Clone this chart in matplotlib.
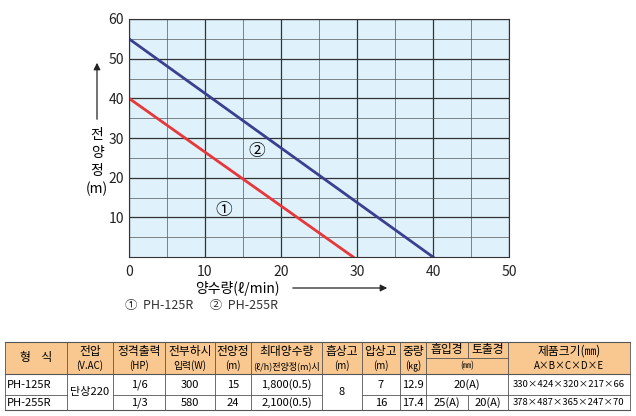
import matplotlib.pyplot as plt
from matplotlib.patches import Rectangle, FancyArrowPatch

plt.rcParams['font.family'] = ['Noto Sans CJK KR', 'DejaVu Sans']

# chart data
flow_125 = [0, 29.5]
head_125 = [40, 0]
flow_255 = [0, 40]
head_255 = [55, 0]

# table data
col_edges = [5, 67, 113, 165, 215, 251, 322, 362, 400, 426, 468, 508, 630]
headers = ['형    식', '전압', '정격출력', '전부하시', '전양정', '최대양수량', '흡상고', '압상고', '중량']
subheaders = ['', '(V.AC)', '(HP)', '입력(W)', '(m)', '(ℓ/h)전양정(m)시', '(m)', '(m)', '(㎏)']
row1 = ['PH-125R', '1/6', '300', '15', '1,800(0.5)', '7', '12.9', '20(A)', '330×424×320×217×66']
row2 = ['PH-255R', '1/3', '580', '24', '2,100(0.5)', '16', '17.4', '25(A)', '20(A)', '378×487×365×247×70']

fig = plt.figure(figsize=(6.36, 4.16), dpi=100)
ax = fig.add_axes([129 / 636, 1 - 257 / 416, 380 / 636, 238 / 416])
ax.set_facecolor('#dff1fb')
ax.set_xlim(0, 50)
ax.set_ylim(0, 60)
ax.set_xticks(range(0, 51, 5), minor=True)
ax.set_yticks(range(0, 61, 5), minor=True)
ax.set_xticks(range(0, 51, 10))
ax.set_yticks(range(10, 61, 10))
ax.grid(which='major', color='#333333', lw=0.9)
ax.grid(which='minor', color='#555555', lw=0.5)
ax.tick_params(which='both', length=0, labelsize=10, colors='#222222')
ax.tick_params(axis='x', pad=6)
for s in ax.spines.values():
    s.set_color('#333333')
ax.plot(flow_125, head_125, color='#e8373a', lw=2)
ax.plot(flow_255, head_255, color='#3a3f8f', lw=2)
ax.text(12.4, 11.8, '①', fontsize=12, ha='center', va='center')
ax.text(16.8, 26.5, '②', fontsize=12, ha='center', va='center')

o = fig.add_axes([0, 0, 1, 1])
o.set_xlim(0, 636)
o.set_ylim(416, 0)
o.axis('off')
o.patch.set_alpha(0)

o.text(97, 162, '전\n양\n정\n(m)', fontsize=10, ha='center', va='center', linespacing=1.35)
o.add_patch(FancyArrowPatch((97, 122), (97, 60), arrowstyle='-|>', mutation_scale=10, color='#222', lw=0.9))
o.text(237, 288, '양수량(ℓ/min)', fontsize=10, ha='center', va='center')
o.add_patch(FancyArrowPatch((290, 288), (390, 288), arrowstyle='-|>', mutation_scale=10, color='#222', lw=0.9))
o.text(125, 306, '①  PH-125R      ②  PH-255R', fontsize=9, ha='left', va='center', color='#333')

# table
top, hb, mid, bot = 342, 374, 395, 410
lc = '#555555'
o.add_patch(Rectangle((col_edges[0], top), col_edges[-1] - col_edges[0], hb - top, fc='#f8c890', ec='none'))
fs = 8
hs = 8.5
for i, h in enumerate(headers):
    xc = (col_edges[i] + col_edges[i + 1]) / 2
    if subheaders[i]:
        o.text(xc, 351, h, fontsize=hs, ha='center', va='center')
        o.text(xc, 366, subheaders[i], fontsize=6.5 if i == 5 else 7, ha='center', va='center')
    else:
        o.text(xc, (top + hb) / 2, h, fontsize=hs, ha='center', va='center')
o.text((col_edges[9] + col_edges[10]) / 2, 350, '흡입경', fontsize=hs, ha='center', va='center')
o.text((col_edges[10] + col_edges[11]) / 2, 350, '토출경', fontsize=hs, ha='center', va='center')
o.text((col_edges[9] + col_edges[11]) / 2, 366, '(㎜)', fontsize=6, ha='center', va='center')
o.text((col_edges[11] + col_edges[12]) / 2, 351, '제품크기(㎜)', fontsize=hs, ha='center', va='center')
o.text((col_edges[11] + col_edges[12]) / 2, 366, 'A×B×C×D×E', fontsize=7, ha='center', va='center')

# lines
o.plot([col_edges[0], col_edges[-1]], [top, top], color=lc, lw=0.8)
o.plot([col_edges[0], col_edges[-1]], [hb, hb], color=lc, lw=0.8)
o.plot([col_edges[0], col_edges[-1]], [bot, bot], color=lc, lw=0.8)
o.plot([col_edges[9], col_edges[11]], [358, 358], color=lc, lw=0.6)
for x0, x1 in [(col_edges[0], col_edges[1]), (col_edges[2], col_edges[6]),
               (col_edges[7], col_edges[-1])]:
    o.plot([x0, x1], [mid, mid], color=lc, lw=0.6)
for i, x in enumerate(col_edges):
    if i != 10:
        o.plot([x, x], [top, bot], color=lc, lw=0.6)
o.plot([col_edges[10], col_edges[10]], [top, 358], color=lc, lw=0.6)
o.plot([col_edges[10], col_edges[10]], [mid, bot], color=lc, lw=0.6)

def cx(i):
    return (col_edges[i] + col_edges[i + 1]) / 2

r1y, r2y = (hb + mid) / 2, (mid + bot) / 2
o.text(col_edges[0] + 2, r1y, row1[0], fontsize=fs, ha='left', va='center')
o.text(col_edges[0] + 2, r2y, row2[0], fontsize=fs, ha='left', va='center')
o.text(cx(1), (hb + bot) / 2, '단상220', fontsize=fs, ha='center', va='center')
o.text(cx(6), (hb + bot) / 2, '8', fontsize=fs, ha='center', va='center')
for k, i in enumerate([2, 3, 4, 5]):
    o.text(cx(i), r1y, row1[k + 1], fontsize=fs, ha='center', va='center')
    o.text(cx(i), r2y, row2[k + 1], fontsize=fs, ha='center', va='center')
o.text(cx(7), r1y, row1[5], fontsize=fs, ha='center', va='center')
o.text(cx(7), r2y, row2[5], fontsize=fs, ha='center', va='center')
o.text(cx(8), r1y, row1[6], fontsize=fs, ha='center', va='center')
o.text(cx(8), r2y, row2[6], fontsize=fs, ha='center', va='center')
o.text((col_edges[9] + col_edges[11]) / 2, r1y, row1[7], fontsize=fs, ha='center', va='center')
o.text(cx(9), r2y, row2[7], fontsize=fs, ha='center', va='center')
o.text(cx(10), r2y, row2[8], fontsize=fs, ha='center', va='center')
o.text(cx(11), r1y, row1[8], fontsize=6.8, ha='center', va='center')
o.text(cx(11), r2y, row2[9], fontsize=6.8, ha='center', va='center')

fig.savefig('out.png', dpi=100)
